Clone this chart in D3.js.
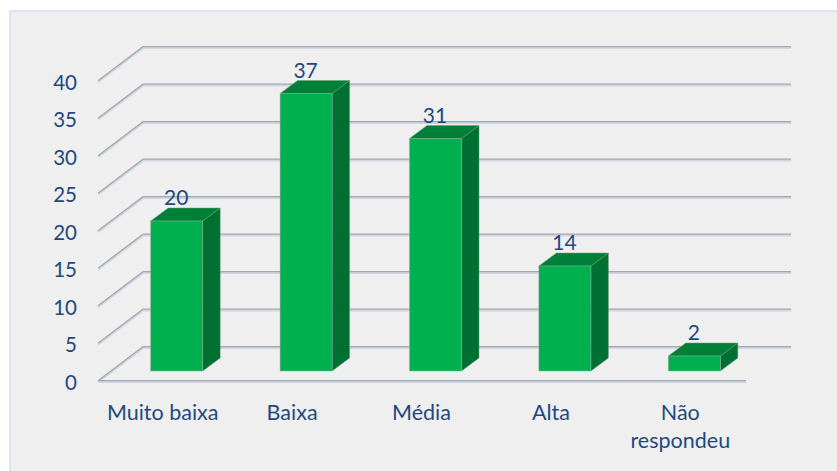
<!DOCTYPE html>
<html><head><meta charset="utf-8">
<script src="https://cdn.jsdelivr.net/npm/d3@7"></script>
<style>html,body{margin:0;padding:0;background:#fff}svg{display:block}text{font-family:Lato,"Open Sans",sans-serif}</style>
</head><body><svg id="c" width="837" height="471"></svg>
<script>
const categories=["Muito baixa","Baixa","Média","Alta","Não respondeu"];
const values=[20,37,31,14,2];
const yTicks=[0,5,10,15,20,25,30,35,40];
const W=837,H=471,ink="#1f497d";
const depth={x:45,y:34},barDepth={x:17.5,y:13};
const svg=d3.select("#c");
svg.append("rect").attr("x",10).attr("y",11).attr("width",W-10).attr("height",H-11).attr("fill","#efefef");
svg.append("path").attr("d",`M10 ${H}V11H${W}`).attr("fill","none").attr("stroke","#d9e5f5").attr("stroke-width",2);
const yFront=d3.scaleLinear().domain([0,40]).range([381,81]);
const x=d3.scaleBand().domain(categories).range([98,745]);
const barW=52;
const barBase=371;
const grid=svg.append("g");
const line=d3.line();
function stroke2(pts){
  grid.append("path").attr("d",line(pts.map(p=>[p[0]+.3,p[1]+1]))).attr("fill","none").attr("stroke","#cfd7e4").attr("stroke-width",2);
  grid.append("path").attr("d",line(pts.map(p=>[p[0],p[1]-.3]))).attr("fill","none").attr("stroke","#a4a7ae").attr("stroke-width",1.3);
}
const xEnd=x.range()[1]+1;
yTicks.forEach(v=>{
  const y=yFront(v),x0=x.range()[0];
  stroke2([[x0,y],[x0+depth.x,y-depth.y],[xEnd+depth.x,y-depth.y]]);
});
stroke2([[x.range()[0],yFront(0)],[xEnd,yFront(0)]]);
const axis=d3.axisLeft(yFront).tickValues(yTicks).tickSize(0).tickPadding(0);
const ag=svg.append("g").attr("transform","translate(77,1)").call(axis);
ag.select(".domain").remove();
ag.selectAll("text").attr("fill",ink).style("font-size","20.5px").style("font-family","Lato,'Open Sans',sans-serif").attr("dy","0.36em");
const h=v=>yFront(0)-yFront(v);
const bars=svg.append("g").selectAll("g").data(categories.map((c,i)=>({c,v:values[i]}))).join("g")
  .attr("transform",d=>`translate(${x(d.c)+x.bandwidth()/2-barW/2+14},${barBase})`);
bars.append("path").attr("fill","#006f32").attr("stroke","#6f9a7f").attr("stroke-width",.5)
  .attr("d",d=>`M${barW} 0V${-h(d.v)}l${barDepth.x} ${-barDepth.y}V${-barDepth.y}Z`);
bars.append("path").attr("fill","#008037").attr("stroke","#6f9a7f").attr("stroke-width",.5)
  .attr("d",d=>`M0 ${-h(d.v)}l${barDepth.x} ${-barDepth.y}H${barW+barDepth.x}L${barW} ${-h(d.v)}Z`);
bars.append("rect").attr("fill","#00b04f").attr("stroke","#8fae9a").attr("stroke-width",.5)
  .attr("y",d=>-h(d.v)).attr("width",barW).attr("height",d=>h(d.v));
bars.append("text").attr("x",barW/2-.5).attr("y",d=>-h(d.v)-16).attr("text-anchor","middle").attr("fill",ink).style("font-size","21px").text(d=>d.v);
const lab=svg.append("g").selectAll("text").data(categories).join("text")
  .attr("text-anchor","middle").attr("fill",ink).style("font-size","21.5px")
  .attr("y",420);
lab.each(function(d){
  const parts=d==="Não respondeu"?["Não","respondeu"]:[d];
  d3.select(this).selectAll("tspan").data(parts).join("tspan")
    .attr("x",x(d)+x.bandwidth()/2).attr("dy",(p,i)=>i?28:0).text(p=>p);
});
</script></body></html>
